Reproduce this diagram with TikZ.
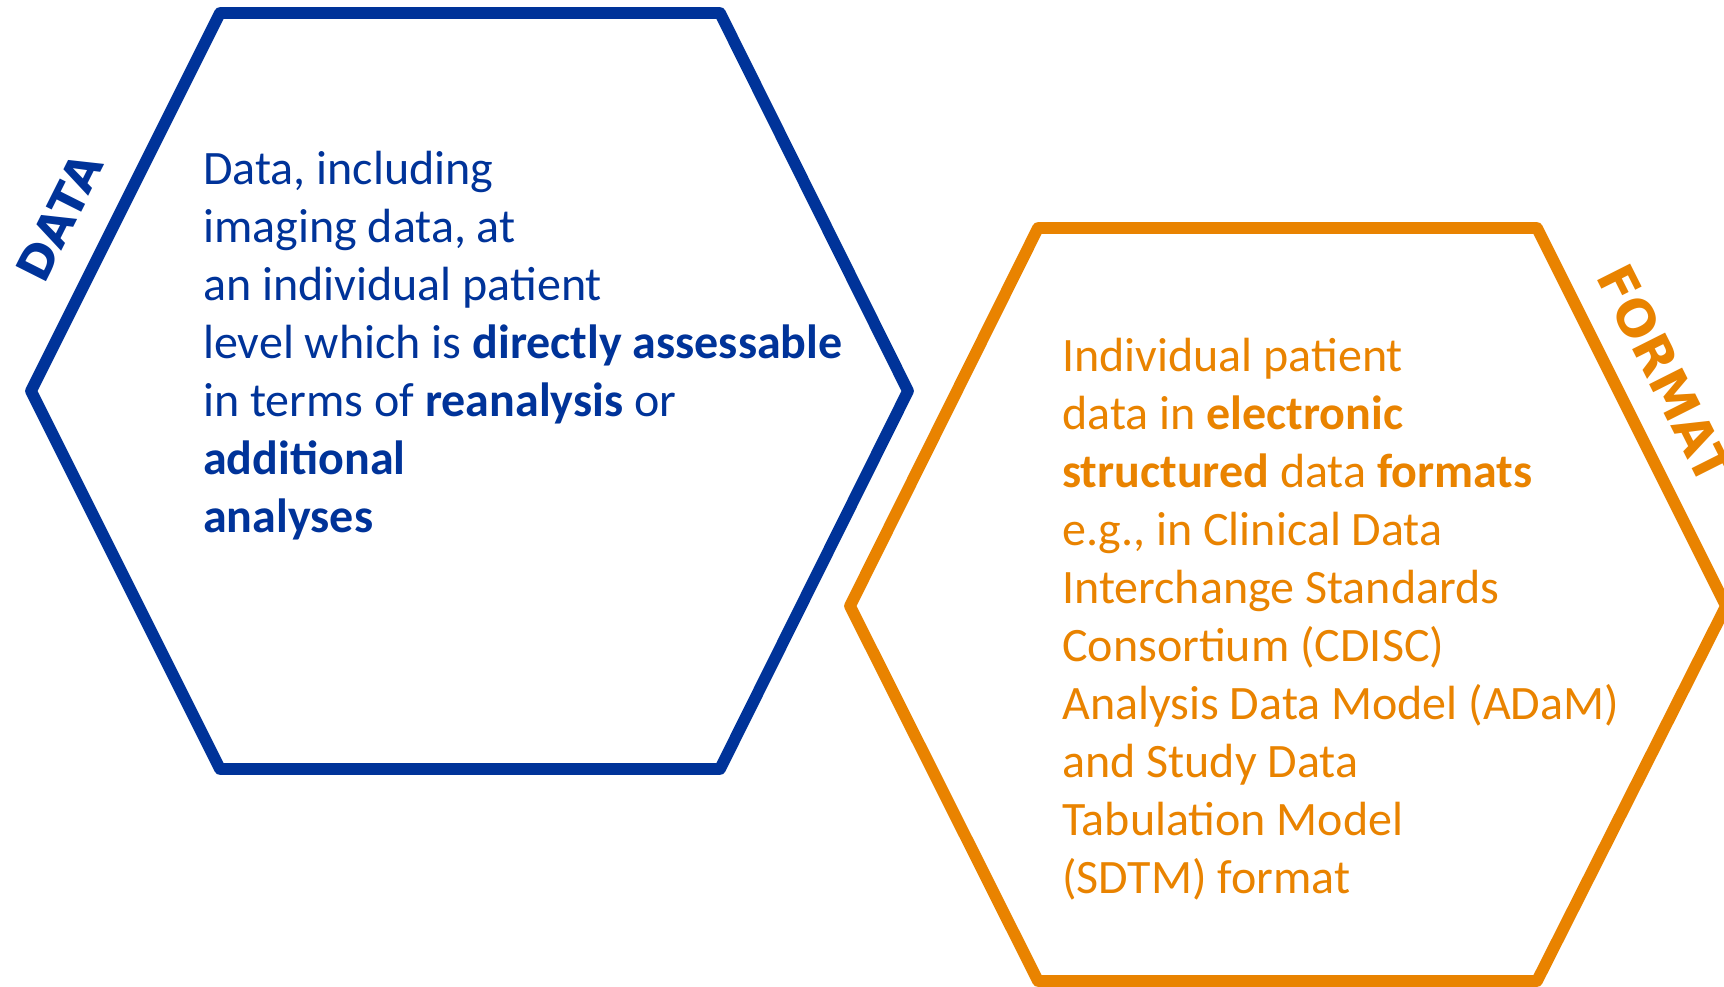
\documentclass[tikz,border=0pt]{standalone}
\usepackage{fontspec}
\setmainfont{Carlito}
\newfontfamily\tagfont{DejaVu Sans}
\definecolor{hexblue}{RGB}{0,51,153}
\definecolor{hexorange}{RGB}{233,131,0}
\begin{document}
\begin{tikzpicture}[x=0.75pt,y=-0.75pt,
  hexline/.style={line width=8.8pt,line join=round},
  bodytext/.style={anchor=north west,inner sep=0pt,align=left,font=\fontsize{36}{43.5}\selectfont},
  tag/.style={inner sep=0pt,anchor=base west}]
\useasboundingbox (0,0) rectangle (1724,986);
% blue hexagon
\draw[hexline,hexblue] (220,13) -- (720,13) -- (908,391) -- (720,769) -- (220,769) -- (31,391) -- cycle;
% orange hexagon
\draw[hexline,hexorange] (1038,228) -- (1537,228) -- (1726,606) -- (1537,981) -- (1038,981) -- (850,606) -- cycle;
\node[bodytext,text=hexblue] (datatext) at (203,151) {Data, including\\imaging data, at\\an individual patient\\level which is \textbf{directly assessable}\\in terms of \textbf{reanalysis} or\\\textbf{additional}\\\textbf{analyses}};
\node[bodytext,text=hexorange] (formattext) at (1062,338) {Individual patient\\data in \textbf{electronic}\\\textbf{structured} data \textbf{formats}\\e.g., in Clinical Data\\Interchange Standards\\Consortium (CDISC)\\Analysis Data Model (ADaM)\\and Study Data\\Tabulation Model\\(SDTM) format};
\node[tag,text=hexblue,rotate=63.3,font=\tagfont\fontsize{35}{40}\selectfont\bfseries] (datatag) at (44,286) {DATA};
\node[tag,text=hexorange,rotate=-63.3,font=\tagfont\fontsize{38}{44}\selectfont\bfseries] (formattag) at (1595,276) {FORMAT};
\end{tikzpicture}
\end{document}
